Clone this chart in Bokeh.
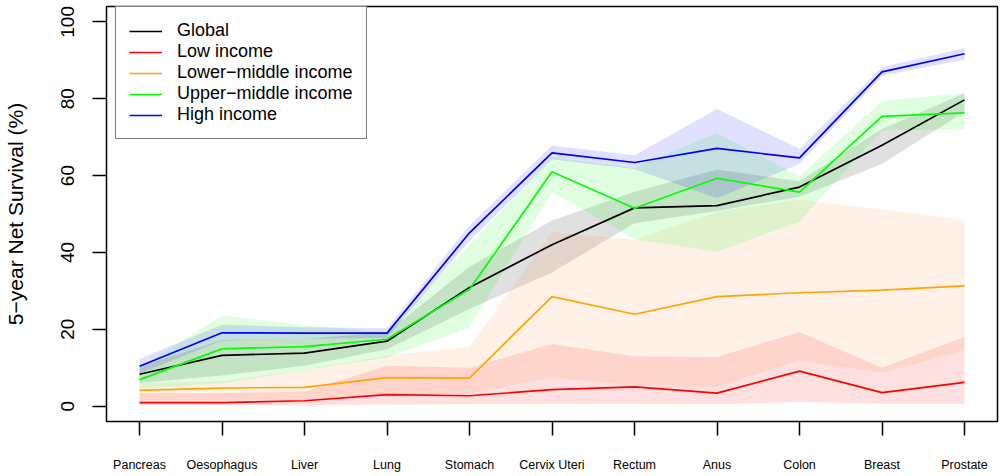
from bokeh.plotting import figure
from bokeh.models import ColumnDataSource, FixedTicker, Legend, LegendItem
from bokeh.embed import file_html
from bokeh.resources import INLINE

sites = ["Pancreas", "Oesophagus", "Liver", "Lung", "Stomach", "Cervix Uteri",
         "Rectum", "Anus", "Colon", "Breast", "Prostate"]
pos = list(range(1, len(sites) + 1))

global_mean = [8.3, 13.2, 13.8, 16.9, 30.9, 42.0, 51.6, 52.2, 57.0, 67.9, 79.7]
global_lo = [6.0, 8.0, 10.5, 14.8, 25.3, 34.8, 47.6, 50.8, 54.5, 63.0, 76.6]
global_hi = [10.3, 17.2, 17.5, 19.2, 36.3, 48.3, 55.8, 61.6, 58.5, 72.1, 81.4]

low_mean = [0.9, 0.9, 1.4, 3.0, 2.7, 4.3, 5.0, 3.4, 9.1, 3.5, 6.2]
low_lo = [0.2, 0.2, 0.2, 0.4, 0.5, 0.6, 0.6, 0.5, 1.1, 0.6, 0.6]
low_hi = [3.4, 3.4, 3.8, 10.5, 10.0, 16.2, 13.0, 12.8, 19.3, 10.0, 18.0]

lmid_mean = [4.1, 4.7, 4.9, 7.4, 7.3, 28.5, 23.9, 28.5, 29.5, 30.2, 31.3]
lmid_lo = [1.6, 1.6, 1.8, 3.0, 3.3, 7.4, 5.5, 5.0, 11.9, 8.7, 14.5]
lmid_hi = [6.0, 6.5, 9.5, 13.2, 15.4, 45.3, 43.3, 50.5, 53.8, 51.2, 48.6]

umid_mean = [6.9, 14.9, 15.5, 17.4, 30.4, 61.0, 51.5, 59.3, 55.7, 75.4, 76.3]
umid_lo = [4.5, 5.9, 9.4, 12.6, 20.5, 55.7, 43.4, 40.2, 48.0, 71.8, 72.0]
umid_hi = [10.0, 23.6, 21.0, 19.3, 42.0, 64.8, 62.0, 71.1, 59.8, 79.4, 81.5]

high_mean = [10.4, 19.1, 19.0, 19.0, 45.1, 65.9, 63.4, 67.1, 64.6, 87.0, 91.7]
high_lo = [8.5, 17.0, 17.5, 17.8, 43.0, 64.2, 61.7, 54.1, 63.0, 86.0, 90.2]
high_hi = [12.3, 21.2, 20.5, 20.3, 47.0, 67.8, 65.3, 77.3, 67.0, 88.2, 93.2]

# name, line colour, band colour, mean, lower, upper
groups = [
    ("Global", "#000000", "#000000", global_mean, global_lo, global_hi),
    ("Low income", "#FF0000", "#FF0000", low_mean, low_lo, low_hi),
    ("Lower\u2212middle income", "#FFA500", "#FF8C3A", lmid_mean, lmid_lo, lmid_hi),
    ("Upper\u2212middle income", "#00FF00", "#00FF00", umid_mean, umid_lo, umid_hi),
    ("High income", "#0000FF", "#0000FF", high_mean, high_lo, high_hi),
]

FONT = "Liberation Sans"

p = figure(width=1000, height=476, output_backend="svg", toolbar_location=None,
           x_range=(0.6, 11.4), y_range=(-4, 104),
           min_border_left=106, min_border_right=3, min_border_top=6,
           min_border_bottom=55)
p.background_fill_color = "white"
p.border_fill_color = "white"
p.outline_line_color = "black"
p.outline_line_width = 1.5
p.xgrid.visible = False
p.ygrid.visible = False

for name, color, band, mean, lo, hi in groups:
    src = ColumnDataSource(dict(x=pos, lo=lo, hi=hi))
    p.varea(x="x", y1="lo", y2="hi", source=src, fill_color=band, fill_alpha=0.12)

items = []
for name, color, band, mean, lo, hi in groups:
    src = ColumnDataSource(dict(x=pos, y=mean))
    r = p.line(x="x", y="y", source=src, line_color=color, line_width=1.7)
    items.append(LegendItem(label=name, renderers=[r]))

legend = Legend(items=items, location=(9, 282))
legend.border_line_color = "black"
legend.border_line_width = 1.5
legend.padding = 13
legend.spacing = 0
legend.margin = 0
legend.label_height = 20
legend.glyph_height = 20
legend.glyph_width = 33
legend.label_standoff = 15
legend.label_text_font = FONT
legend.label_text_font_size = "18px"
legend.label_text_color = "black"
legend.background_fill_alpha = 1.0
p.add_layout(legend)

xa = p.xaxis[0]
xa.ticker = FixedTicker(ticks=pos)
xa.major_label_overrides = {i: s for i, s in zip(pos, sites)}
xa.axis_line_color = None
xa.major_tick_out = 14
xa.major_tick_in = 0
xa.major_tick_line_width = 1.5
xa.major_tick_line_color = "black"
xa.minor_tick_line_color = None
xa.major_label_standoff = 22
xa.major_label_text_font = FONT
xa.major_label_text_font_size = "12.5px"
xa.major_label_text_color = "black"

ya = p.yaxis[0]
ya.ticker = FixedTicker(ticks=[0, 20, 40, 60, 80, 100])
ya.axis_line_color = None
ya.major_tick_out = 14
ya.major_tick_in = 0
ya.major_tick_line_width = 1.5
ya.major_tick_line_color = "black"
ya.minor_tick_line_color = None
ya.major_label_orientation = "vertical"
ya.major_label_standoff = 18
ya.major_label_text_font = FONT
ya.major_label_text_font_size = "19px"
ya.major_label_text_color = "black"
ya.axis_label = "5\u2212year Net Survival (%)"
ya.axis_label_text_font = FONT
ya.axis_label_text_font_size = "21px"
ya.axis_label_text_font_style = "normal"
ya.axis_label_text_color = "black"
ya.axis_label_standoff = 32

open("out.html", "w").write(file_html(p, INLINE))
